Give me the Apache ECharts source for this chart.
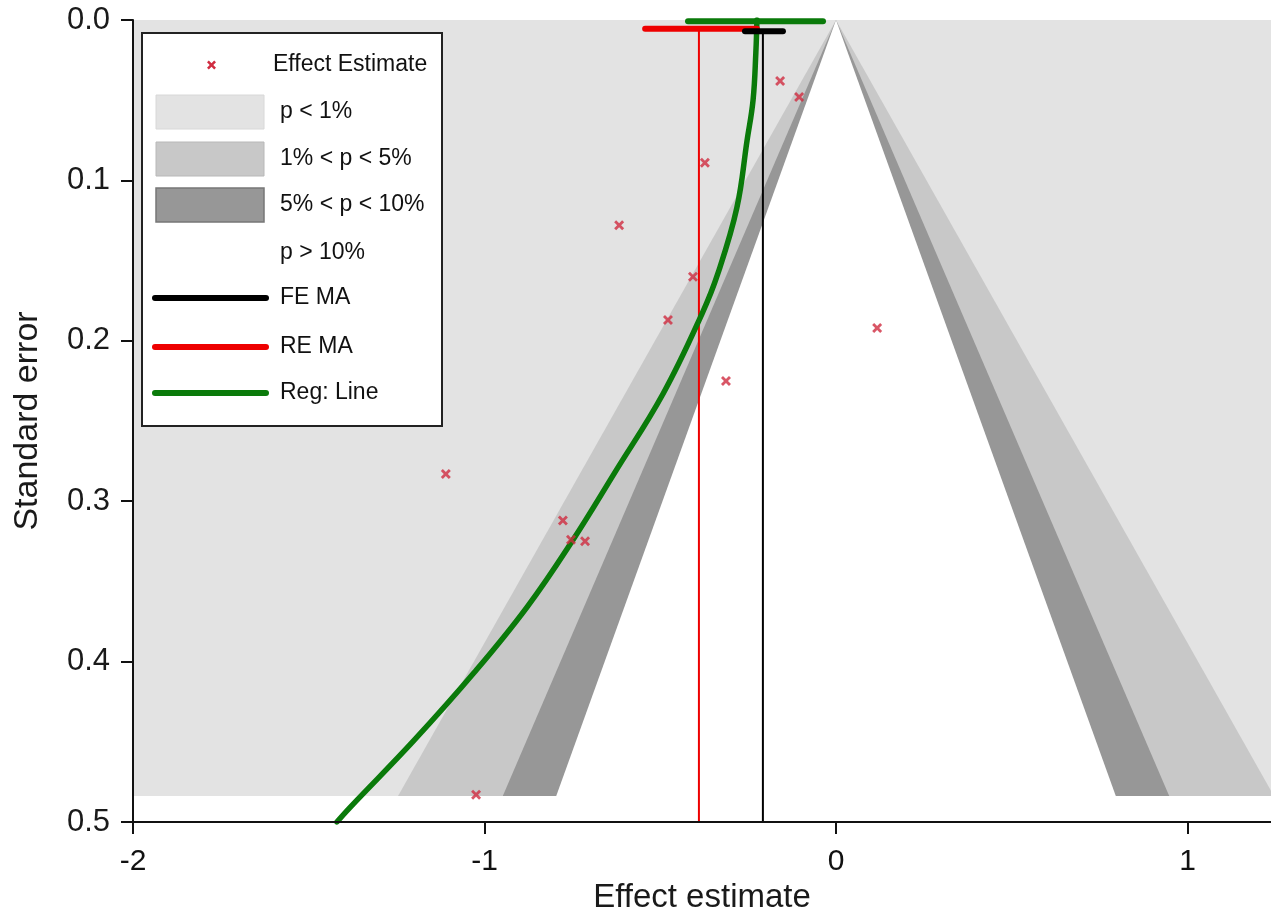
<!DOCTYPE html>
<html>
<head>
<meta charset="utf-8">
<script src="https://cdn.jsdelivr.net/npm/echarts@6/dist/echarts.min.js"></script>
<style>
html,body{margin:0;padding:0;background:#fff;}
#chart{width:1271px;height:910px;}
</style>
</head>
<body>
<div id="chart"></div>
<script>
// ---- data ----
const xTickValues = [-2, -1, 0, 1];
const xAxisMin = -2, xAxisMax = 1.2375;
const yAxisMin = 0, yAxisMax = 0.5;

// study effect estimates and their standard errors
const effectEstimate = [-0.159, -0.105, -0.373, -0.617, -0.407, -0.478, 0.117, -0.313, -1.110, -0.777, -0.754, -0.714, -1.024];
const standardError  = [0.038, 0.048, 0.089, 0.128, 0.160, 0.187, 0.192, 0.225, 0.283, 0.312, 0.324, 0.325, 0.483];

// regression line
const regLineSE     = [0, 0.02, 0.05, 0.075, 0.117, 0.158, 0.183, 0.233, 0.282, 0.324, 0.366, 0.407, 0.449, 0.491, 0.5];
const regLineEffect = [-0.225, -0.228, -0.236, -0.253, -0.282, -0.336, -0.381, -0.492, -0.629, -0.748, -0.879, -1.030, -1.200, -1.383, -1.420];

// meta-analysis estimates and confidence bars drawn at the top
const feEstimate = -0.208, feCI = [-0.259, -0.151], feBarSE = 0.007;
const reEstimate = -0.390, reCI = [-0.543, -0.225], reBarSE = 0.0055;
const regCI = [-0.421, -0.037], regBarSE = 0.0008;

// contour funnel: bottom standard error and half-widths at that level
const contourBottomSE = 0.4838;
const contourHalfWidth = [1.246, 0.948, 0.796]; // p=1%, p=5%, p=10% bounds

const legendLabels = ['Effect Estimate', 'p < 1%', '1% < p < 5%', '5% < p < 10%', 'p > 10%', 'FE MA', 'RE MA', 'Reg: Line'];

// ---- colours ----
const C_P1 = '#e3e3e3', C_P5 = '#c8c8c8', C_P10 = '#979797', C_IN = '#ffffff';
const C_RED = '#ee0000', C_GREEN = '#0a7a0a', C_BLACK = '#000000', C_MARK = '#d02c40';
const FONT = '"Liberation Sans", Arial, sans-serif';

const chart = echarts.init(document.getElementById('chart'), null, {renderer: 'canvas'});

function polygonSeries(name, verts, fill, z) {
  return {
    type: 'custom', name: name, clip: true, silent: true, z: z,
    data: [[verts[0][0], verts[0][1]]],
    renderItem: function (params, api) {
      return {type: 'polygon', shape: {points: verts.map(v => api.coord(v))}, style: {fill: fill}};
    }
  };
}
function cone(hw) { return [[0, 0], [-hw, contourBottomSE], [hw, contourBottomSE]]; }

function lineSeries(name, pts, color, width, z, smooth) {
  return {
    type: 'line', name: name, data: pts, showSymbol: false, silent: true, z: z, smooth: smooth || false,
    lineStyle: {color: color, width: width, cap: 'round'}, animation: false
  };
}

const xMarkerPts = [[0,2],[2,0],[5,3],[8,0],[10,2],[7,5],[10,8],[8,10],[5,7],[2,10],[0,8],[3,5]];
const xMarker = 'path://M' + xMarkerPts.map(p => p[0] + ',' + p[1]).join(' L') + ' Z';

const series = [
  polygonSeries('p < 1%', [[xAxisMin, 0], [xAxisMax, 0], [xAxisMax, contourBottomSE], [xAxisMin, contourBottomSE]], C_P1, 1),
  polygonSeries('1% < p < 5%', cone(contourHalfWidth[0]), C_P5, 2),
  polygonSeries('5% < p < 10%', cone(contourHalfWidth[1]), C_P10, 3),
  polygonSeries('p > 10%', cone(contourHalfWidth[2]), C_IN, 4),
  lineSeries('RE MA line', [[reEstimate, reBarSE], [reEstimate, yAxisMax]], C_RED, 2, 5),
  lineSeries('FE MA line', [[feEstimate, feBarSE], [feEstimate, yAxisMax]], C_BLACK, 2, 5),
  lineSeries('Reg: Line', regLineSE.map((s, i) => [regLineEffect[i], s]), C_GREEN, 5.5, 6, 0.4),
  lineSeries('RE MA', [[reCI[0], reBarSE], [reCI[1], reBarSE]], C_RED, 6, 7),
  lineSeries('FE MA', [[feCI[0], feBarSE], [feCI[1], feBarSE]], C_BLACK, 6, 7),
  lineSeries('Reg CI', [[regCI[0], regBarSE], [regCI[1], regBarSE]], C_GREEN, 6, 8),
  {
    type: 'scatter', name: 'Effect Estimate', z: 9, silent: true,
    data: effectEstimate.map((e, i) => [e, standardError[i]]),
    symbol: xMarker, symbolSize: 10, itemStyle: {color: C_MARK}
  }
];

// legend drawn as graphic elements (fixed pixel layout)
const lgX = 142, lgY = 33, lgW = 300, lgH = 393;
const rowY = [65, 112, 159, 205, 253, 298, 347, 393];
const LZ = 100;
const legendEls = [
  {type: 'rect', z: LZ, shape: {x: lgX, y: lgY, width: lgW, height: lgH}, style: {fill: '#fff', stroke: '#222', lineWidth: 2}},
  {type: 'polygon', z: LZ + 1, shape: {points: xMarkerPts.map(p => [207 + p[0] * 0.9, rowY[0] - 4.5 + p[1] * 0.9])}, style: {fill: C_MARK}},
  {type: 'rect', z: LZ + 1, shape: {x: 156, y: rowY[1] - 17, width: 108, height: 34}, style: {fill: C_P1, stroke: '#d8d8d8', lineWidth: 1}},
  {type: 'rect', z: LZ + 1, shape: {x: 156, y: rowY[2] - 17, width: 108, height: 34}, style: {fill: C_P5, stroke: '#b8b8b8', lineWidth: 1}},
  {type: 'rect', z: LZ + 1, shape: {x: 156, y: rowY[3] - 17, width: 108, height: 34}, style: {fill: C_P10, stroke: '#777', lineWidth: 1.5}},
  {type: 'line', z: LZ + 1, shape: {x1: 155, y1: rowY[5], x2: 266, y2: rowY[5]}, style: {stroke: C_BLACK, lineWidth: 6, lineCap: 'round'}},
  {type: 'line', z: LZ + 1, shape: {x1: 155, y1: rowY[6], x2: 266, y2: rowY[6]}, style: {stroke: C_RED, lineWidth: 6, lineCap: 'round'}},
  {type: 'line', z: LZ + 1, shape: {x1: 155, y1: rowY[7], x2: 266, y2: rowY[7]}, style: {stroke: C_GREEN, lineWidth: 6, lineCap: 'round'}}
];
legendLabels.forEach((t, i) => {
  legendEls.push({
    type: 'text', z: LZ + 2, x: i === 0 ? 273 : 280, y: rowY[i],
    style: {text: t, fill: '#111', fontSize: 23, fontFamily: FONT, verticalAlign: 'middle', align: 'left'}
  });
});

chart.setOption({
  animation: false,
  backgroundColor: '#fff',
  grid: {left: 133, right: 0, top: 20, bottom: 88, containLabel: false, outerBoundsMode: 'none'},
  xAxis: {
    type: 'value', min: xAxisMin, max: xAxisMax, interval: 1, z: 20,
    name: 'Effect estimate', nameLocation: 'middle', nameGap: 52,
    nameTextStyle: {fontSize: 33, color: '#1a1a1a', fontFamily: FONT},
    axisLine: {onZero: false, lineStyle: {color: '#111', width: 2}},
    axisTick: {show: true, length: 12, inside: false, customValues: xTickValues, lineStyle: {color: '#111', width: 2}},
    axisLabel: {customValues: xTickValues, margin: 25, fontSize: 30, color: '#111', fontFamily: FONT},
    splitLine: {show: false}
  },
  yAxis: {
    type: 'value', inverse: true, min: yAxisMin, max: yAxisMax, interval: 0.1, z: 20,
    name: 'Standard error', nameLocation: 'middle', nameGap: 88, nameRotate: 90,
    nameTextStyle: {fontSize: 34, color: '#1a1a1a', fontFamily: FONT},
    axisLine: {show: true, onZero: false, lineStyle: {color: '#111', width: 2}},
    axisTick: {show: true, length: 12, lineStyle: {color: '#111', width: 2}},
    axisLabel: {margin: 23, fontSize: 31, color: '#1a1a1a', fontFamily: FONT, formatter: v => v.toFixed(1)},
    splitLine: {show: false}
  },
  graphic: legendEls,
  series: series
});
</script>
</body>
</html>
